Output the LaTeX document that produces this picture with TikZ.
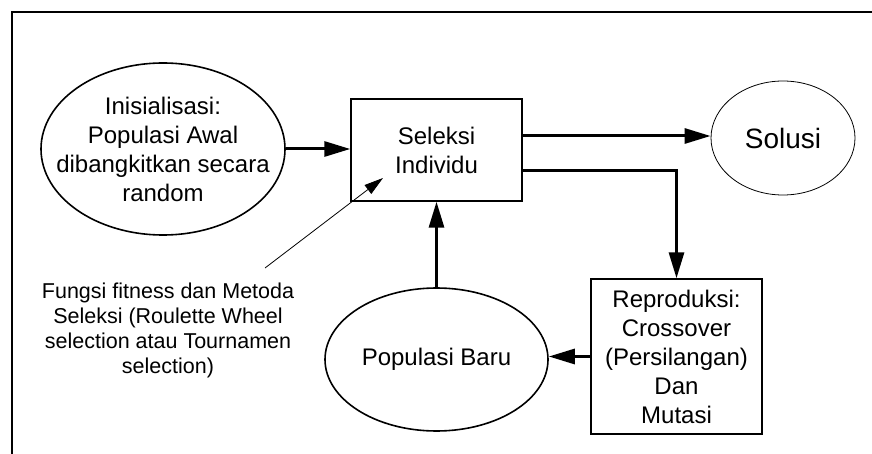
\documentclass[tikz,border=0pt]{standalone}
\usepackage{fontspec}
\setmainfont{Liberation Sans}
\usetikzlibrary{arrows.meta,shapes.geometric}

\tikzset{
  kotak/.style={draw,line width=1.4pt,inner sep=0pt,align=center,
    font=\fontsize{24}{29}\selectfont},
  bulat/.style={draw,ellipse,line width=1.6pt,inner sep=0pt},
  teks/.style={inner sep=0pt,align=center,font=\fontsize{24}{29}\selectfont},
  panah/.style={line width=3pt,-{Triangle[length=26pt,width=15pt]}},
  panahtipis/.style={line width=0.8pt,-{Triangle[length=19pt,width=11pt]}}
}

\begin{document}
\begin{tikzpicture}[x=1pt,y=-1pt]

  \useasboundingbox (0,0) rectangle (872,454);
  % bingkai
  \draw[line width=2pt] (12,454) -- (12,12) -- (872,12);

  \node[bulat,minimum width=244pt,minimum height=172pt] (init) at (163,149) {};
  \node[teks] (inittext) at (init) {Inisialisasi:\\Populasi Awal\\dibangkitkan secara\\random};

  \node[kotak,minimum width=171pt,minimum height=102pt] (seleksi) at (436.5,150) {Seleksi\\Individu};

  \node[bulat,line width=0.8pt,minimum width=144pt,minimum height=114pt,
    font=\fontsize{28}{34}\selectfont] (solusi) at (783,138) {Solusi};

  \node[kotak,minimum width=171pt,minimum height=155pt] (repro) at (676.5,356.5)
    {Reproduksi:\\Crossover\\(Persilangan)\\Dan\\Mutasi};

  \node[bulat,minimum width=223pt,minimum height=143pt] (pop) at (436.5,359.5) {};
  \node[teks] (poptext) at (pop) {Populasi Baru};

  \node[teks,font=\fontsize{21.5}{25}\selectfont] (keterangan) at (168,330)
    {Fungsi fitness dan Metoda\\Seleksi (Roulette Wheel\\selection atau Tournamen\\selection)};

  \draw[panah] (init) -- (init -| seleksi.west);
  \draw[panah] ([yshift=14pt]seleksi.east) -- ([yshift=14pt]seleksi.east -| solusi.west);
  \draw[panah] ([yshift=-21pt]seleksi.east) -| (repro.north);
  \draw[panah] (repro.west) -- (repro.west -| pop.east);
  \draw[panah] (pop.north) -- (pop.north |- seleksi.south);

  \coordinate (mulai) at (265,268);
  \coordinate (tunjuk) at (383,178);
  \draw[panahtipis] (mulai) -- (tunjuk);

\end{tikzpicture}
\end{document}
